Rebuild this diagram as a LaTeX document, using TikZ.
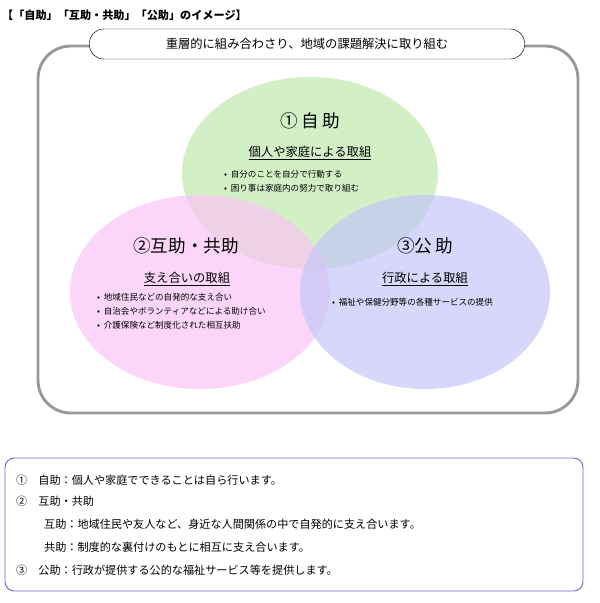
\documentclass[tikz,border=0pt]{standalone}
\usepackage{fontspec}
\setmainfont{Noto Sans CJK JP}
\usetikzlibrary{positioning}
\definecolor{jigreen}{HTML}{BFE8AE}
\definecolor{kopink}{HTML}{FBC4F6}
\definecolor{kobblue}{HTML}{C4C6F8}
\definecolor{frameblue}{HTML}{6A6AD0}
\tikzset{circ/.style={draw=none,fill opacity=0.7},
	head/.style={font=\fontsize{15}{17}\selectfont},
	sub/.style={font=\fontsize{10.5}{12}\selectfont},
	bul/.style={font=\fontsize{7.3}{9}\selectfont,align=left,anchor=west},
	line/.style={font=\fontsize{9.5}{11}\selectfont,anchor=west}}
\newcommand{\ul}[1]{\underline{#1}}
\begin{document}
\begin{tikzpicture}[x=0.03cm,y=-0.03cm]
	\useasboundingbox (0,0) rectangle (600,603);
	\node[anchor=west,font=\bfseries\fontsize{9.5}{11}\selectfont] (title) at (-2,15) {【「自助」「互助・共助」「公助」のイメージ】};

	\draw[gray!80,line width=2.5pt,rounded corners=28] (38,46) rectangle (578,413);

	% three circles
	\fill[jigreen,circ] (310,173) ellipse (128 and 96);
	\fill[kopink,circ] (200,292) ellipse (130 and 97);
	\fill[kobblue,circ] (425,292) ellipse (125 and 97);

	\node[draw,fill=white,rounded corners=12,minimum width=435*0.03cm,minimum height=30*0.03cm,
		font=\fontsize{10.5}{12}\selectfont] (banner) at (307,44) {重層的に組み合わさり、地域の課題解決に取り組む};

	\node[head] (jijo) at (310,121) {① 自\,助};
	\node[sub] (jijosub) at (310,153) {\ul{個人や家庭による取組}};
	\node[bul] (jijob) at (220,181) {•\ \ 自分のことを自分で行動する\\[3pt] •\ \ 困り事は家庭内の努力で取り組む};

	\node[head] (gojo) at (186,246) {②互助・共助};
	\node[sub] (gojosub) at (187,279) {\ul{支え合いの取組}};
	\node[bul] (gojob) at (93,311) {•\ \ 地域住民などの自発的な支え合い\\[3pt] •\ \ 自治会やボランティアなどによる助け合い\\[3pt] •\ \ 介護保険など制度化された相互扶助};

	\node[head] (kojo) at (425,246) {③公\,助};
	\node[sub] (kojosub) at (425,279) {\ul{行政による取組}};
	\node[bul] (kojob) at (328,302) {•\ \ 福祉や保健分野等の各種サービスの提供};

	% explanation box
	\draw[frameblue,line width=0.8pt,rounded corners=8] (5,458) rectangle (583,591);
	\node[line] (l1) at (12,480) {①\quad 自助：個人や家庭でできることは自ら行います。};
	\node[line] (l2) at (12,501) {②\quad 互助・共助};
	\node[line] (l3) at (40,524) {互助：地域住民や友人など、身近な人間関係の中で自発的に支え合います。};
	\node[line] (l4) at (40,547) {共助：制度的な裏付けのもとに相互に支え合います。};
	\node[line] (l5) at (12,570) {③\quad 公助：行政が提供する公的な福祉サービス等を提供します。};
\end{tikzpicture}
\end{document}
